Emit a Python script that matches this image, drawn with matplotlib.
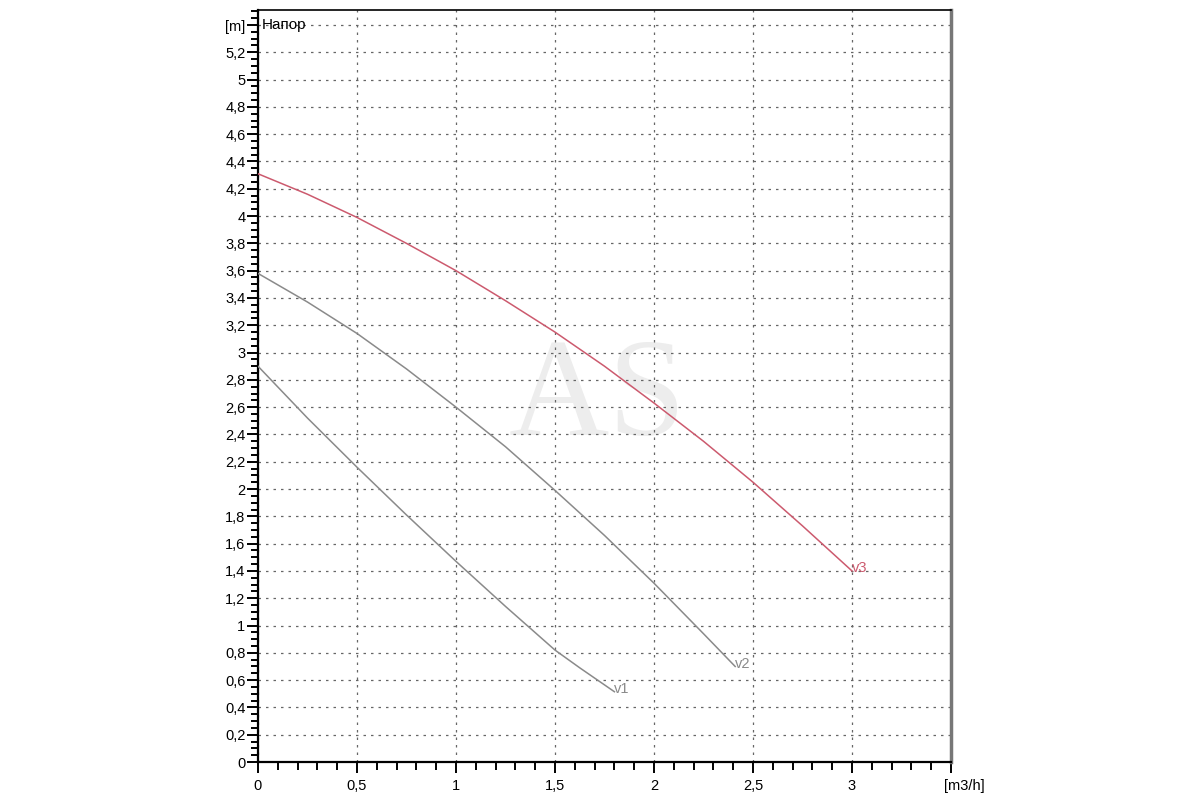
import numpy as np
import matplotlib
matplotlib.use('Agg')
import matplotlib.pyplot as plt
from matplotlib.ticker import MultipleLocator, FixedLocator
import matplotlib.transforms as mtransforms

plt.rcParams['font.family'] = ['Liberation Sans', 'DejaVu Sans']

# -------------------------------
# Pump curves (flow m3/h, head m)
# -------------------------------
v1_q = [0.0, 0.25, 0.5, 0.75, 1.0, 1.25, 1.5, 1.625, 1.75, 1.8]
v1_h = [2.90, 2.52, 2.16, 1.81, 1.47, 1.14, 0.82, 0.69, 0.565, 0.515]

v2_q = [0.0, 0.25, 0.5, 0.75, 1.0, 1.25, 1.5, 1.75, 2.0, 2.25, 2.41]
v2_h = [3.58, 3.37, 3.14, 2.88, 2.60, 2.31, 1.99, 1.66, 1.31, 0.94, 0.70]

v3_q = [0.0, 0.25, 0.5, 0.75, 1.0, 1.25, 1.5, 1.75, 2.0, 2.25, 2.5, 2.75, 3.0]
v3_h = [4.31, 4.16, 3.99, 3.80, 3.60, 3.38, 3.15, 2.90, 2.63, 2.35, 2.05, 1.73, 1.40]

curves = [('v1', v1_q, v1_h, '#8a8a8a'),
          ('v2', v2_q, v2_h, '#8a8a8a'),
          ('v3', v3_q, v3_h, '#cc5a6e')]

x_ticks = [0, 0.5, 1, 1.5, 2, 2.5, 3, 3.5]
x_labels = ['0', '0,5', '1', '1,5', '2', '2,5', '3', '[m3/h]']
y_ticks = [round(0.2 * i, 1) for i in range(28)]
y_labels = [('%g' % v).replace('.', ',') for v in y_ticks[:-1]] + ['[m]']

# -------------------------------
# Figure
# -------------------------------
fig = plt.figure(figsize=(12, 8), dpi=100)
ax = fig.add_axes([0.215, 0.0475, 0.5775, 0.94])

ax.set_xlim(0, 3.5)
ax.set_ylim(0, 5.51)

ax.text(0.49, 0.48, 'AS', transform=ax.transAxes, ha='center', va='center',
        fontsize=100, color='#ededed', family='Liberation Serif', zorder=0)

ax.xaxis.set_major_locator(FixedLocator(x_ticks))
ax.set_xticklabels(x_labels)
ax.yaxis.set_major_locator(FixedLocator(y_ticks))
ax.set_yticklabels(y_labels)
ax.xaxis.set_minor_locator(MultipleLocator(0.1))
ax.yaxis.set_minor_locator(MultipleLocator(0.05))

ax.grid(True, which='major', color='#666666', linestyle=(0, (2, 4)), linewidth=0.9)
ax.set_axisbelow(True)

ax.tick_params(which='major', direction='out', length=8, width=1.4, labelsize=10.5, colors='black')
ax.tick_params(which='minor', direction='out', length=5, width=1.4)
ax.tick_params(axis='y', which='major', pad=1)
ax.tick_params(axis='x', which='major', pad=4)
ax.tick_params(axis='x', which='minor', length=6)

for side in ['left', 'bottom']:
    ax.spines[side].set_linewidth(1.6)
    ax.spines[side].set_color('black')
ax.spines['top'].set_linewidth(1.2)
ax.spines['right'].set_linewidth(2.5)
ax.spines['right'].set_color('#777777')

# shift the unit label on the x axis a bit to the right
last = ax.get_xticklabels()[-1]
last.set_transform(last.get_transform() + mtransforms.ScaledTranslation(13 / 100, 0, fig.dpi_scale_trans))

for name, q, h, col in curves:
    ax.plot(q, h, color=col, linewidth=1.1, zorder=3)
    ax.annotate(name, (q[-1], h[-1]), xytext=(0, 2), textcoords='offset points',
                ha='left', va='center', fontsize=10.5, color=col)

ax.text(0.02, 5.4, 'Напор', ha='left', va='center', fontsize=11, color='black')

fig.savefig('out.png', dpi=100)
